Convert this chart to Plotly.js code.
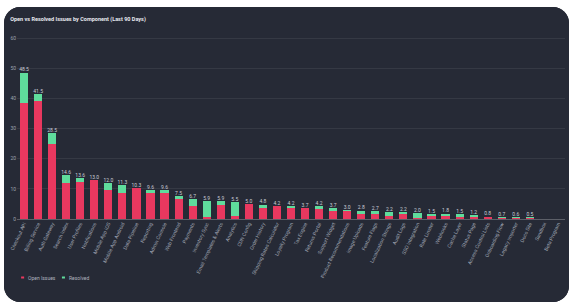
<!DOCTYPE html>
<html>
<head>
<meta charset="utf-8">
<script src="https://cdn.plot.ly/plotly-3.0.1.min.js"></script>
<style>
  html, body { margin:0; padding:0; background:#ffffff; width:571px; height:308px; overflow:hidden; }
  #card { position:absolute; left:4px; top:7px; width:565px; height:295px; border-radius:16px; overflow:hidden; background:#262a36; }
  #chart { width:565px; height:295px; }
</style>
</head>
<body>
<div id="card"><div id="chart"></div></div>
<script>
const categories = ["Checkout API","Billing Service","Auth Gateway","Search Index","User Profiles","Notifications","Mobile App iOS","Mobile App Android","Data Pipeline","Reporting","Admin Console","Web Frontend","Payments","Inventory Sync","Email Templates & Alerts","Analytics","CDN Config","Order History","Shipping Rates Calculator","Loyalty Program","Tax Engine","Returns Portal","Support Widget","Product Recommendations","Image Uploads","Feature Flags","Localization Strings","Audit Logs","SSO Integration","Rate Limiter","Webhooks","Cache Layer","Status Page","Access Control Lists","Onboarding Flow","Legacy Importer","Docs Site","Sandbox","Beta Program"];
const openValues = [38.5,39,25,12,12.3,13,9.5,8.6,10.3,8.6,8.6,6.7,4.2,0.5,4.8,1,5,3.7,4.2,3.5,3.7,3.3,2.6,2.6,1.8,1.7,1,1.5,0.3,1,1,0.8,0.7,0.5,0.4,0.3,0.3,0,0];
const resolvedValues = [10,2.5,3.5,2.6,1.3,0,2.5,2.7,0,1,1,0.8,2.5,5.4,1.1,4.5,0,1.1,0,0.7,0,0.9,1.1,0.4,1,1,1.2,0.7,1.7,0.5,0.8,0.7,0.5,0.3,0.3,0.3,0.2,0,0];
const seriesNames = ["Open Issues","Resolved"];
const seriesColors = ['#e8385f','#5fdc9c'];
const titleText = "Open vs Resolved Issues by Component (Last 90 Days)";

const totals = openValues.map((v,i)=> +(v + resolvedValues[i]).toFixed(1));
const totalLabels = totals.map(t => t > 0 ? t.toFixed(1) : "");

const traces = [
  { type:'bar', name:seriesNames[0], x:categories, y:openValues, marker:{color:seriesColors[0]} },
  { type:'bar', name:seriesNames[1], x:categories, y:resolvedValues, marker:{color:seriesColors[1]} },
  { type:'scatter', mode:'text', x:categories, y:totals, text:totalLabels, textposition:'top center',
    textfont:{size:5, color:'#c9ccd6', family:'Roboto'}, showlegend:false, cliponaxis:false }
];

// custom compact legend (paper coordinates)
const legShapes = [], legAnn = [];
const legX = [0.0075, 0.082];
const legY = -0.318;
seriesNames.forEach((n,i)=>{
  legShapes.push({type:'rect', xref:'paper', yref:'paper', x0:legX[i], x1:legX[i]+0.0055,
    y0:legY-0.006, y1:legY+0.006, fillcolor:seriesColors[i], line:{width:0}});
  legAnn.push({xref:'paper', yref:'paper', x:legX[i]+0.009, y:legY, xanchor:'left', yanchor:'middle',
    text:n, showarrow:false, font:{size:5, color:'#aeb2bf', family:'Roboto'}});
});

const layout = {
  width:565, height:295,
  paper_bgcolor:'#262a36', plot_bgcolor:'#262a36',
  margin:{l:13, r:4, t:28, b:83},
  barmode:'stack', bargap:0.42,
  font:{family:'Roboto', color:'#aeb2bf', size:5},
  title:{text:titleText, x:0.011, xanchor:'left', y:0.96, yanchor:'middle',
         font:{size:5.5, color:'#e6e8ef', family:'Roboto', weight:700}},
  xaxis:{type:'category', range:[-0.5, categories.length-0.5], tickangle:-65, tickfont:{size:5, color:'#9ea2af'},
         showgrid:false, showline:false, zeroline:false, ticks:'', automargin:false},
  yaxis:{range:[0,61], dtick:10, tickfont:{size:5, color:'#9ea2af'},
         gridcolor:'rgba(255,255,255,0.07)', gridwidth:1, zeroline:true,
         zerolinecolor:'rgba(255,255,255,0.25)', zerolinewidth:1, showline:false, ticks:'', automargin:false},
  showlegend:false,
  shapes:legShapes,
  annotations:legAnn
};

Plotly.newPlot('chart', traces, layout, {displayModeBar:false, staticPlot:true});
</script>
</body>
</html>
